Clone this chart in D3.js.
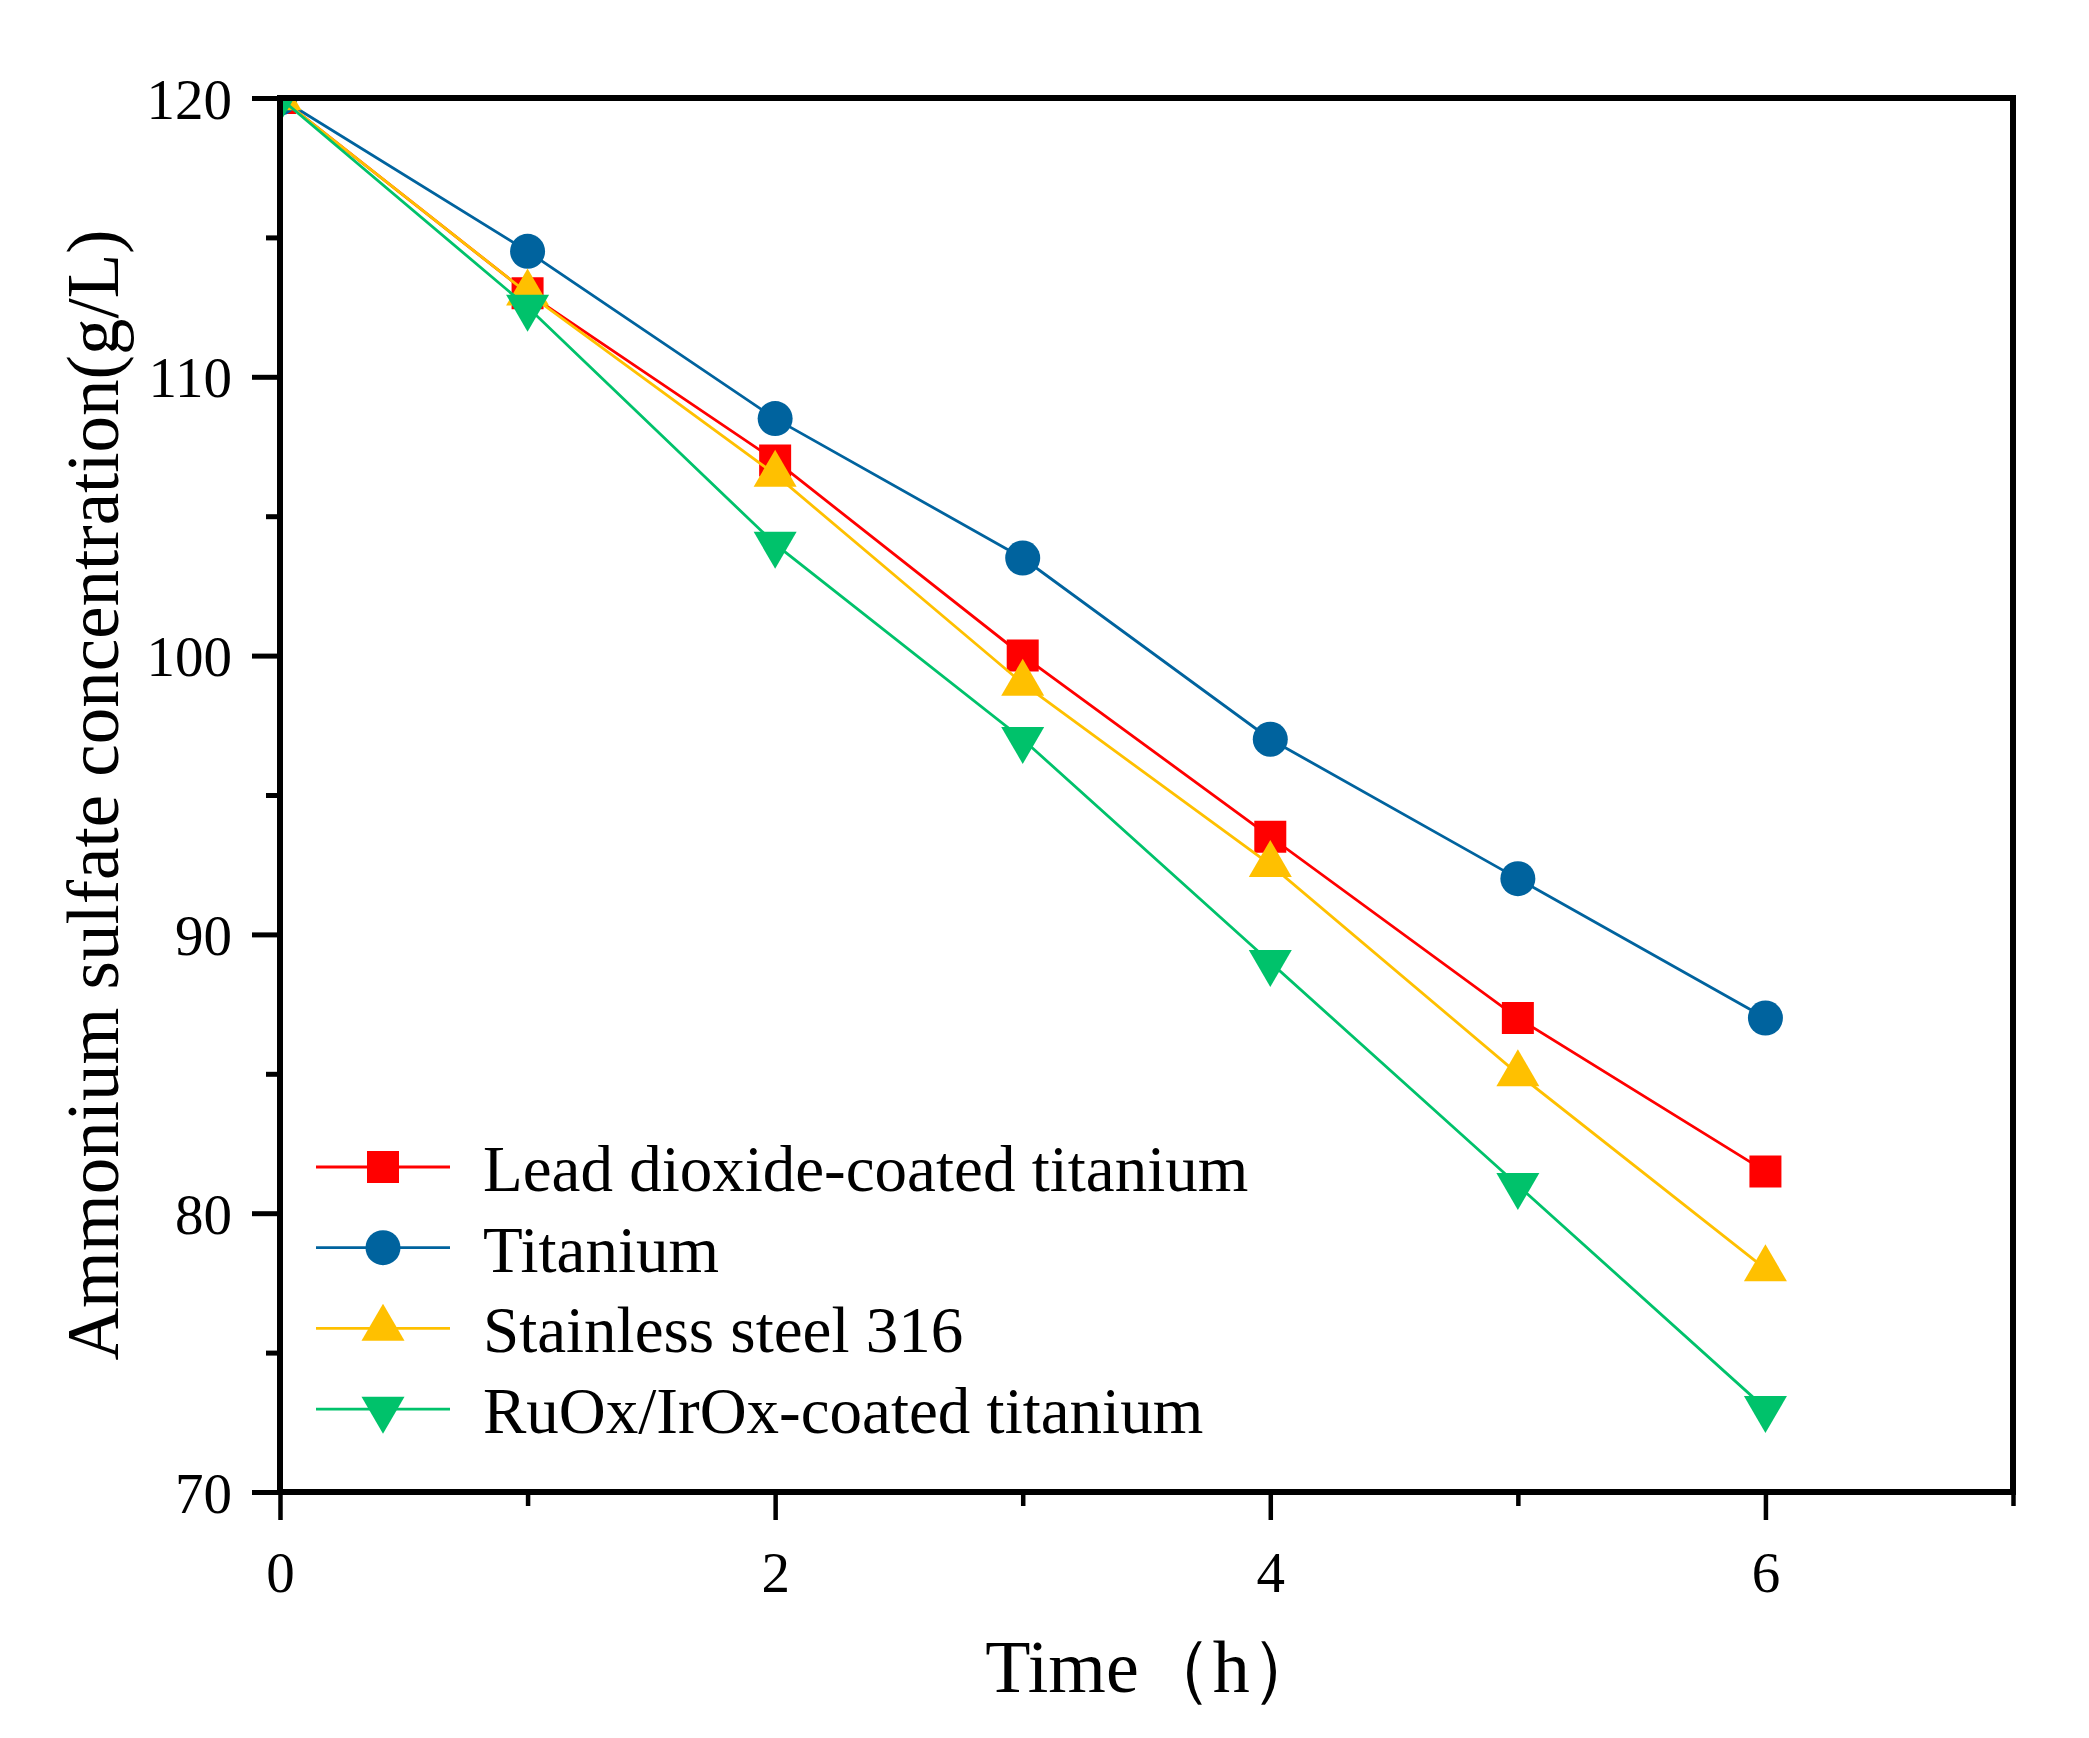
<!DOCTYPE html>
<html>
<head>
<meta charset="utf-8">
<script src="https://cdn.jsdelivr.net/npm/d3@7"></script>
<style>
html,body{margin:0;padding:0;background:#fff;}
svg text{font-family:"Liberation Serif","Times New Roman",serif;fill:#000;}
</style>
</head>
<body>
<svg id="chart" width="2089" height="1738"></svg>
<script>
const timeH = [0, 1, 2, 3, 4, 5, 6];
const seriesNames = ["Lead dioxide-coated titanium", "Titanium", "Stainless steel 316", "RuOx/IrOx-coated titanium"];
const leadDioxide = [120, 113, 107, 100, 93.5, 87, 81.5];
const titanium = [120, 114.5, 108.5, 103.5, 97, 92, 87];
const stainless316 = [120, 113, 106.5, 99, 92.5, 85, 78];
const ruoxIrox = [120, 112.5, 104, 97, 89, 81, 73];
const seriesColors = ["#FF0000", "#00639E", "#FFC000", "#00C26B"];
const seriesShapes = ["square", "circle", "triangleUp", "triangleDown"];
const xTickLabels = [0, 2, 4, 6];
const yTickLabels = [70, 80, 90, 100, 110, 120];
const xLabel = "Time（h）";
const yLabel = "Ammonium sulfate concentration(g/L)";

const allSeries = [leadDioxide, titanium, stainless316, ruoxIrox];

const svg = d3.select("#chart");
const L = 280, R = 2013, T = 98, B = 1492;
const x = d3.scaleLinear().domain([0, 7]).range([L, R]);
const y = d3.scaleLinear().domain([70, 120]).range([B, T]);

svg.append("rect").attr("width", 2089).attr("height", 1738).attr("fill", "#fff");

svg.append("defs").append("clipPath").attr("id", "plotclip")
  .append("rect").attr("x", L).attr("y", T).attr("width", R - L).attr("height", B - T);

function markerPath(shape) {
  if (shape === "square") { const s = 16; return `M${-s},${-s}H${s}V${s}H${-s}Z`; }
  if (shape === "circle") { const r = 17.5; return `M${r},0A${r},${r} 0 1,1 ${-r},0A${r},${r} 0 1,1 ${r},0Z`; }
  const h = 37, w = 43;
  if (shape === "triangleUp") return `M0,${-2*h/3}L${w/2},${h/3}L${-w/2},${h/3}Z`;
  return `M0,${2*h/3}L${w/2},${-h/3}L${-w/2},${-h/3}Z`;
}

// Data
const plot = svg.append("g").attr("clip-path", "url(#plotclip)");
const line = d3.line().x((d, i) => x(timeH[i])).y(d => y(d));
allSeries.forEach((vals, si) => {
  const g = plot.append("g");
  g.append("path").datum(vals).attr("d", line).attr("fill", "none")
    .attr("stroke", seriesColors[si]).attr("stroke-width", 2.8);
  g.selectAll("path.m").data(vals).enter().append("path").attr("class", "m")
    .attr("d", markerPath(seriesShapes[si]))
    .attr("transform", (d, i) => `translate(${x(timeH[i])},${y(d)})`)
    .attr("fill", seriesColors[si]);
});

// Axes
const axW = 6;
const xAxis = d3.axisBottom(x).tickValues(d3.range(0, 8, 1)).tickSize(0).tickFormat("");
const gx = svg.append("g").attr("transform", `translate(0,${B})`).call(xAxis);
gx.select(".domain").remove();
gx.selectAll(".tick").each(function(d) {
  const major = xTickLabels.includes(d);
  d3.select(this).append("line").attr("y1", 0).attr("y2", major ? 28 : 14)
    .attr("stroke", "#000").attr("stroke-width", 4.5);
  if (major) {
    d3.select(this).append("text").attr("y", 100).attr("text-anchor", "middle")
      .attr("font-size", 57).text(d);
  }
});

const yAxis = d3.axisLeft(y).tickValues(d3.range(70, 121, 5)).tickSize(0).tickFormat("");
const gy = svg.append("g").attr("transform", `translate(${L},0)`).call(yAxis);
gy.select(".domain").remove();
gy.selectAll(".tick").each(function(d) {
  const major = yTickLabels.includes(d);
  d3.select(this).append("line").attr("x1", 0).attr("x2", major ? -28 : -14)
    .attr("stroke", "#000").attr("stroke-width", 5);
  if (major) {
    d3.select(this).append("text").attr("x", -48).attr("dy", 20).attr("text-anchor", "end")
      .attr("font-size", 57).text(d);
  }
});

svg.append("rect").attr("x", L).attr("y", T).attr("width", R - L).attr("height", B - T)
  .attr("fill", "none").attr("stroke", "#000").attr("stroke-width", axW);

// Axis titles
svg.append("text").attr("x", (L + R) / 2 + 8).attr("y", 1692).attr("text-anchor", "middle")
  .attr("font-size", 74).text(xLabel);
svg.append("text").attr("transform", `translate(118,${(T + B) / 2}) rotate(-90)`)
  .attr("text-anchor", "middle").attr("font-size", 73).text(yLabel);

// Legend
const legY0 = 1167, legDy = 80.7;
seriesNames.forEach((name, si) => {
  const g = svg.append("g").attr("transform", `translate(0,${legY0 + si * legDy})`);
  g.append("line").attr("x1", 316).attr("x2", 450).attr("y1", 0).attr("y2", 0)
    .attr("stroke", seriesColors[si]).attr("stroke-width", 2.8);
  g.append("path").attr("d", markerPath(seriesShapes[si])).attr("transform", "translate(383,0)")
    .attr("fill", seriesColors[si]);
  g.append("text").attr("x", 483).attr("y", 24).attr("font-size", 65).text(name);
});
</script>
</body>
</html>
